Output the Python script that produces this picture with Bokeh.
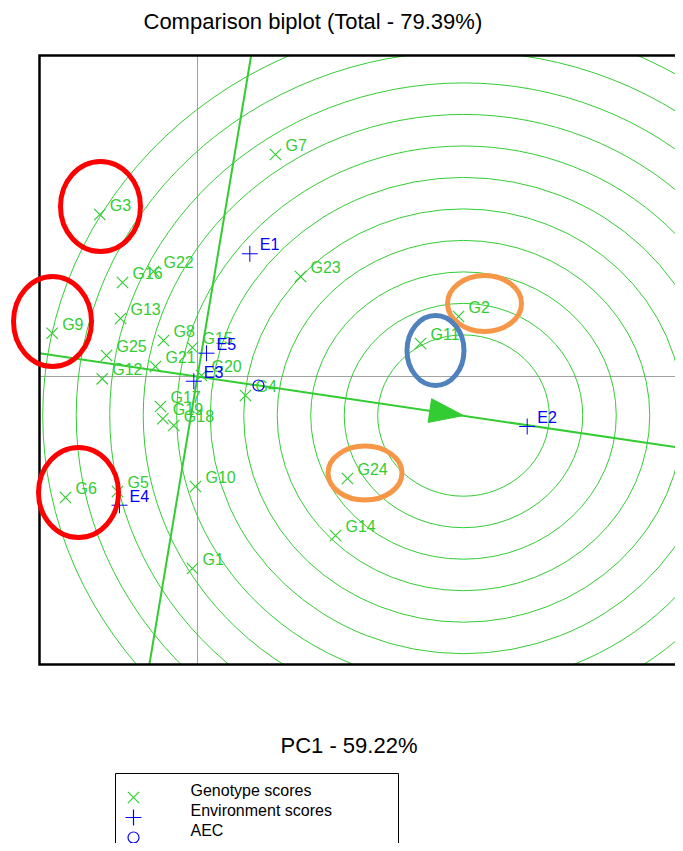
import math
from bokeh.plotting import figure
from bokeh.models import ColumnDataSource, Range1d, Label
from bokeh.core.properties import value
from bokeh.embed import file_html
from bokeh.resources import INLINE

# ---------------- data ----------------
genotypes = ["G1", "G2", "G3", "G4", "G5", "G6", "G7", "G8", "G9", "G10",
             "G11", "G12", "G13", "G14", "G15", "G16", "G17", "G18", "G19", "G20",
             "G21", "G22", "G23", "G24", "G25"]
g_pc1 = [-0.075, 3.896, -1.458, 0.716, -1.194, -1.970, 1.164, -0.507, -2.169, -0.030,
         3.328, -1.422, -1.149, 2.060, -0.075, -1.119, -0.552, -0.354, -0.518, 0.060,
         -0.627, -0.657, 1.537, 2.239, -1.358]
g_pc2 = [-3.048, 0.952, 2.571, -0.302, -1.825, -1.921, 3.524, 0.571, 0.687, -1.746,
         0.524, -0.037, 0.921, -2.524, 0.460, 1.492, -0.476, -0.778, -0.671, 0.016,
         0.159, 1.667, 1.587, -1.619, 0.333]

environments = ["E1", "E2", "E3", "E4", "E5"]
e_pc1 = [0.781, 4.921, -0.055, -1.164, 0.134]
e_pc2 = [1.948, -0.794, -0.075, -2.043, 0.370]

aec_pc1 = [0.910]
aec_pc2 = [-0.143]

ideal_pc1 = 3.97
ideal_pc2 = -0.62
ring_radii = [1.28, 1.78, 2.28, 2.78, 3.28, 3.78, 4.28, 4.78, 5.28, 5.78, 6.28]

# hand-drawn highlight rings (centre)
hl_x = [-1.448, -2.164, -1.776, 4.284, 2.500, 3.552]
hl_y = [2.698, 0.873, -1.841, 1.159, -1.532, 0.413]
hl_color = ["#ff0000", "#ff0000", "#ff0000", "#f79646", "#f79646", "#4f81bd"]
hl_w = [80, 78, 80, 74, 74, 57]
hl_h = [90, 90, 90, 56, 54, 70]

title_text = "Comparison biplot (Total - 79.39%)"
xlabel_text = "PC1 - 59.22%"
legend_labels = ["Genotype scores", "Environment scores", "AEC"]

# ---------------- layout (canvas pixels) ----------------
W, H = 675, 843
OX, OY = 197, 376          # origin position on the canvas
SX, SY = 67.0, 63.0        # pixels per unit on each axis
BOX_L, BOX_T, BOX_B = 39, 55, 664   # plot box edges on the canvas
LEG_L, LEG_T, LEG_R = 115, 773, 398  # legend box edges on the canvas
LEG_GLYPH_X, LEG_TEXT_X = 133, 190
LEG_TEXT_Y0, LEG_GLYPH_Y0, LEG_ROW = 790, 797, 20


def cx(px):
    return (px - OX) / SX


def cy(py):
    return (OY - py) / SY


x_lo, x_hi = cx(0), cx(W)
y_lo, y_hi = cy(H), cy(0)
bx_lo, by_hi, by_lo = cx(BOX_L), cy(BOX_T), cy(BOX_B)

GREEN = "#33cc33"
BLUE = "#0000ff"
FONT = "Liberation Sans"

p = figure(width=W, height=H, x_range=Range1d(x_lo, x_hi), y_range=Range1d(y_lo, y_hi),
           output_backend="svg", toolbar_location=None,
           x_axis_location=None, y_axis_location=None,
           min_border=0, min_border_left=0, min_border_right=0,
           min_border_top=0, min_border_bottom=0)
p.grid.visible = False
p.outline_line_color = None
p.background_fill_color = "white"
p.border_fill_color = "white"

# dotted origin lines
p.segment(x0=[0, bx_lo], y0=[by_lo, 0], x1=[0, x_hi], y1=[by_hi, 0],
          line_color="#444444", line_width=1, line_dash="1 1")

# concentric rings around the ideal genotype
p.ellipse(x=[ideal_pc1] * len(ring_radii), y=[ideal_pc2] * len(ring_radii),
          width=[2 * r for r in ring_radii], height=[2 * r for r in ring_radii],
          fill_color=None, line_color=GREEN, line_width=1)

# AEC abscissa and its perpendicular through the origin
m = aec_pc2[0] / aec_pc1[0]
p.line([bx_lo, x_hi], [m * bx_lo, m * x_hi], line_color=GREEN, line_width=2)
p.line([-m * by_lo, -m * by_hi], [by_lo, by_hi], line_color=GREEN, line_width=2)

# arrow head at the ideal point
dx, dy = aec_pc1[0] * SX, aec_pc2[0] * SY
n = math.hypot(dx, dy)
ux, uy = dx / n, dy / n
tipx, tipy = ideal_pc1 * SX, ideal_pc2 * SY
bx, by = tipx - 34 * ux, tipy - 34 * uy
hw = 12
tri_x = [tipx / SX, (bx - hw * uy) / SX, (bx + hw * uy) / SX]
tri_y = [tipy / SY, (by + hw * ux) / SY, (by - hw * ux) / SY]
p.patch(tri_x, tri_y, fill_color=GREEN, line_color=GREEN, line_width=1)

# genotype scores
gsrc = ColumnDataSource(dict(x=g_pc1, y=g_pc2, name=genotypes))
p.scatter("x", "y", source=gsrc, marker="x", size=16, line_color=GREEN, line_width=1.2)
p.text("x", "y", text="name", source=gsrc, x_offset=10, y_offset=-9,
       text_font=value(FONT), text_font_size="16px", text_color=GREEN,
       text_baseline="middle", text_align="left")

# environment scores
esrc = ColumnDataSource(dict(x=e_pc1, y=e_pc2, name=environments))
p.scatter("x", "y", source=esrc, marker="cross", size=16, line_color=BLUE, line_width=1)
p.text("x", "y", text="name", source=esrc, x_offset=10, y_offset=-9,
       text_font=value(FONT), text_font_size="16px", text_color=BLUE,
       text_baseline="middle", text_align="left")

# AEC
p.scatter(aec_pc1, aec_pc2, marker="circle", size=11, fill_color=None,
          line_color=BLUE, line_width=1.2)

# white masks outside the plot box
p.quad(left=[x_lo, x_lo, x_lo], right=[bx_lo, x_hi, x_hi],
       bottom=[y_lo, by_hi, y_lo], top=[y_hi, y_hi, by_lo],
       fill_color="white", line_color=None)

# plot box border (left, top, bottom)
p.line([x_hi, bx_lo, bx_lo, x_hi], [by_hi, by_hi, by_lo, by_lo],
       line_color="black", line_width=2.5, line_join="miter")

# highlight rings
p.ellipse(x=hl_x, y=hl_y, width=hl_w, height=hl_h, width_units="screen", height_units="screen",
          fill_color=None, line_color=hl_color, line_width=5)

# titles
p.add_layout(Label(x=cx(143), y=cy(21), text=title_text, text_font=FONT,
                   text_font_size="22px", text_color="black",
                   text_baseline="middle", text_align="left"))
p.add_layout(Label(x=cx(280), y=cy(745), text=xlabel_text, text_font=FONT,
                   text_font_size="22px", text_color="black",
                   text_baseline="middle", text_align="left"))

# legend (box runs past the bottom edge, as in the reference)
p.line([cx(LEG_L), cx(LEG_L), cx(LEG_R), cx(LEG_R)], [y_lo, cy(LEG_T), cy(LEG_T), y_lo],
       line_color="black", line_width=1)
leg_markers = ["x", "cross", "circle"]
leg_colors = [GREEN, BLUE, BLUE]
leg_sizes = [16, 16, 11]
for i, lab in enumerate(legend_labels):
    gy = cy(LEG_GLYPH_Y0 + i * LEG_ROW)
    p.scatter([cx(LEG_GLYPH_X)], [gy], marker=leg_markers[i], size=leg_sizes[i],
              fill_color=None, line_color=leg_colors[i], line_width=1.2)
    p.add_layout(Label(x=cx(LEG_TEXT_X), y=cy(LEG_TEXT_Y0 + i * LEG_ROW), text=lab,
                       text_font=FONT, text_font_size="16px", text_color="black",
                       text_baseline="middle", text_align="left"))

open("out.html", "w").write(file_html(p, INLINE))
